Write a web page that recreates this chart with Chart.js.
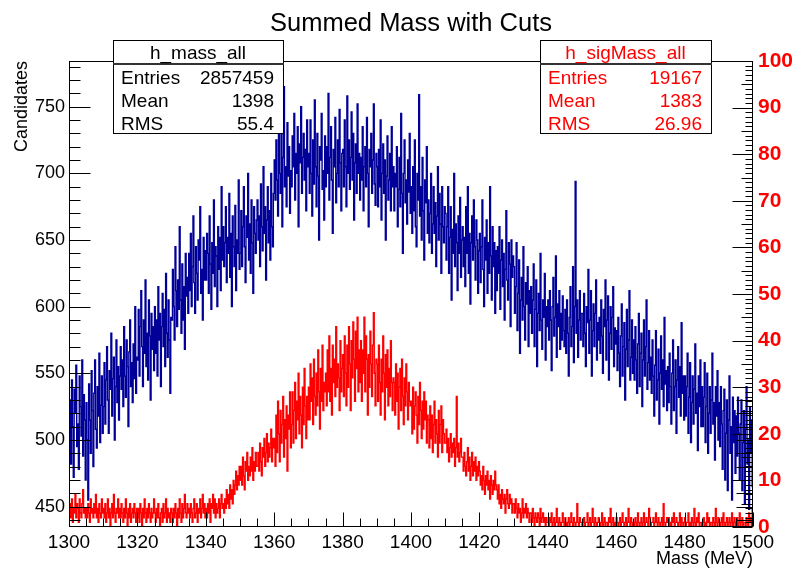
<!DOCTYPE html>
<html>
<head>
<meta charset="utf-8">
<script src="https://cdn.jsdelivr.net/npm/chart.js@4.4.0/dist/chart.umd.min.js"></script>
<style>
html,body{margin:0;padding:0;background:#fff;}
</style>
</head>
<body>
<canvas id="myCan" width="795" height="568"></canvas>
<script>
// histogram range, 0.25 MeV bins (20 bins = 5 MeV per row)
var massMin = 1300, massMax = 1500;

// h_mass_all (left axis)
var hMassAll = [
  498,530,482,545,510,472,538,520,556,495,512,478,548,525,503,560,488,534,515,470,
  528,500,455,542,515,490,552,522,480,535,560,508,494,540,518,565,498,526,548,505,
  525,558,512,545,570,530,505,552,538,580,518,546,562,500,540,575,528,555,515,548,
  570,538,560,525,585,548,532,575,555,510,566,590,540,558,528,572,546,600,535,562,
  560,598,548,585,612,570,540,590,565,620,555,580,545,605,578,530,595,568,585,552,
  600,565,590,548,615,575,595,540,585,610,570,598,555,625,580,562,605,575,535,592,
  590,628,600,575,645,612,585,620,598,660,605,580,632,590,615,568,640,608,622,595,
  640,612,655,600,630,668,618,595,645,625,605,650,635,675,610,628,590,652,620,642,
  620,655,640,610,668,632,598,648,625,680,615,645,638,600,660,628,652,612,690,635,
  660,630,648,675,618,652,640,685,622,655,600,668,645,630,676,612,650,640,695,628,
  640,672,630,660,690,645,618,668,652,700,635,662,625,680,648,610,675,655,640,665,
  680,650,668,630,692,660,642,705,655,675,620,665,690,648,672,635,700,660,645,685,
  710,680,725,695,668,742,700,685,730,660,712,765,690,705,675,738,698,720,670,702,
  690,728,705,745,680,715,700,735,660,722,708,750,685,712,730,695,718,672,740,705,
  715,685,740,700,668,725,692,755,705,675,730,698,650,720,710,745,688,702,665,728,
  690,720,700,760,680,712,735,695,655,718,705,742,678,700,725,690,748,708,672,715,
  718,690,740,705,675,758,700,725,688,712,746,695,730,665,708,722,685,752,700,715,
  680,712,695,735,672,705,720,690,742,700,660,718,705,730,685,710,752,692,676,715,
  705,675,718,690,740,665,700,722,685,710,650,698,728,680,695,715,672,735,690,705,
  672,700,690,720,660,688,712,675,745,685,640,700,725,678,695,662,710,686,730,670,
  690,655,705,672,725,660,645,700,680,759,668,690,650,712,672,635,695,678,720,655,
  680,648,670,700,640,662,690,655,678,630,668,705,650,685,662,625,690,660,648,675,
  670,635,660,690,625,652,675,605,658,640,700,630,662,648,612,668,640,682,622,650,
  660,630,652,615,675,640,690,625,655,602,648,668,635,680,645,620,665,650,610,642,
  655,618,645,680,628,600,652,635,665,610,648,625,690,638,605,660,630,648,595,642,
  612,645,625,660,598,635,650,615,640,590,628,672,620,605,648,632,585,650,622,638,
  630,595,615,648,582,610,635,565,605,622,590,645,600,575,618,602,630,570,612,595,
  615,580,605,632,570,598,620,555,595,610,582,640,590,568,605,592,625,560,600,585,
  605,575,612,590,552,600,622,578,592,638,562,602,585,612,568,595,575,608,582,570,
  598,565,605,580,548,592,615,570,585,630,558,600,694,580,605,562,590,612,575,595,
  595,570,610,580,555,600,588,628,565,590,612,548,582,602,570,595,620,560,588,575,
  592,565,605,578,550,598,585,620,560,590,608,545,580,600,568,592,615,555,584,572,
  582,552,592,565,540,578,602,548,570,588,530,568,598,555,575,612,545,562,590,550,
  575,545,585,560,535,572,595,540,565,580,525,560,590,548,570,605,538,558,582,545,
  562,535,575,548,518,556,582,530,545,568,512,550,578,538,560,525,592,542,552,522,
  555,528,565,540,512,550,575,522,540,560,505,545,570,532,555,518,588,535,548,515,
  548,518,540,565,505,532,558,498,528,548,512,538,572,520,535,492,548,525,560,510,
  540,510,532,558,498,525,550,490,520,540,505,530,565,512,528,485,540,518,552,500,
  528,495,540,512,478,522,538,470,505,530,462,515,548,490,510,455,532,498,522,475,
  518,488,532,505,470,512,530,462,498,522,452,508,540,482,500,448,525,490,515,465
];

// h_sigMass_all (right axis)
var hSigMassAll = [
  3,5,2,6,1,4,3,7,2,5,4,1,6,3,2,5,8,3,4,2,
  4,2,5,3,1,6,3,4,2,5,3,7,2,4,1,5,3,2,6,3,
  4,2,5,1,3,6,2,4,0,3,5,2,7,3,1,4,3,6,2,4,
  2,5,3,1,4,2,6,3,0,4,2,5,1,3,4,2,5,3,1,4,
  2,4,1,5,3,0,4,2,6,3,1,4,2,5,3,1,4,2,3,6,
  3,1,4,2,5,2,0,3,4,1,5,2,3,6,1,4,2,3,1,4,
  3,1,4,2,5,3,0,4,2,6,3,1,5,2,4,7,3,2,5,3,
  4,2,5,3,1,4,6,2,3,5,1,4,3,6,2,4,7,3,5,2,
  4,2,5,3,6,1,5,4,7,3,6,2,5,3,4,6,2,5,7,4,
  5,3,6,4,8,5,7,4,9,6,8,5,10,7,9,12,8,11,9,13,
  10,13,9,15,11,8,14,12,16,10,13,11,15,12,17,10,14,12,16,13,
  13,16,12,18,14,11,17,15,19,13,16,20,14,18,15,17,21,14,19,17,
  19,13,24,16,27,20,14,25,18,22,28,15,23,19,26,12,24,21,29,17,
  22,29,18,25,31,19,27,23,33,20,28,24,17,30,22,34,26,19,28,23,
  30,23,35,27,32,22,36,28,24,33,26,38,29,21,34,27,39,25,31,29,
  33,26,38,29,41,27,34,24,39,31,36,28,43,30,35,32,25,40,29,34,
  37,28,41,33,26,39,30,43,35,25,40,32,44,36,27,42,34,45,29,38,
  31,40,27,38,33,45,29,41,36,24,37,30,42,35,28,39,46,33,26,36,
  35,27,39,31,24,36,29,41,33,23,37,30,38,26,34,28,40,31,25,32,
  31,24,35,27,33,21,30,34,25,36,28,22,32,26,35,29,23,31,27,26,
  27,20,30,21,26,29,24,18,28,22,31,25,19,27,21,29,23,27,18,24,
  23,17,26,19,24,16,22,27,18,23,20,15,25,18,22,26,16,23,20,18,
  18,21,16,19,14,17,20,15,18,16,19,13,17,28,15,18,14,16,19,15,
  15,12,16,13,11,14,17,12,15,10,13,16,11,14,12,15,10,13,11,14,
  12,9,11,8,13,10,7,11,9,12,8,10,6,11,9,7,10,8,12,9,
  8,6,9,5,7,4,8,6,5,7,3,6,8,5,4,7,5,6,3,5,
  5,3,6,4,2,5,3,4,1,3,6,2,4,3,5,2,4,3,1,3,
  3,1,4,2,0,3,2,1,3,2,0,4,1,2,3,1,2,0,2,1,
  1,0,2,1,3,0,1,2,0,1,4,1,0,2,1,0,1,3,1,0,
  2,1,0,1,2,0,1,3,1,0,2,1,0,1,5,1,0,2,1,1,
  0,1,2,0,1,1,3,0,1,2,0,1,4,1,0,2,1,0,1,2,
  1,0,1,3,0,1,2,0,1,1,0,2,1,4,0,1,2,0,1,0,
  2,1,0,1,2,0,1,3,1,0,1,2,0,1,4,1,0,2,1,0,
  1,0,2,1,0,3,1,0,1,2,0,1,3,0,1,2,1,0,4,2,
  0,1,1,2,0,1,3,1,0,2,1,0,1,2,0,5,1,0,1,2,
  1,2,0,1,0,2,1,3,0,1,2,1,0,1,3,0,2,1,0,1,
  2,0,1,1,3,0,1,0,2,1,0,4,1,0,2,1,3,0,1,1,
  0,1,2,0,1,0,3,1,2,0,1,1,0,2,1,0,4,1,0,2,
  1,0,1,2,0,3,1,0,1,2,0,1,2,0,1,3,0,1,2,0,
  1,2,0,1,3,0,1,2,0,1,1,0,2,1,0,3,1,2,0,4
];

var xTickLabels = [1300,1320,1340,1360,1380,1400,1420,1440,1460,1480,1500];
var yTickLabels = [450,500,550,600,650,700,750];
var y2TickLabels = [0,10,20,30,40,50,60,70,80,90,100];

var chartTitle = 'Summed Mass with Cuts';
var massStats = ['h_mass_all', [['Entries','2857459'],['Mean','1398'],['RMS','55.4']]];
var sigStats = ['h_sigMass_all', [['Entries','19167'],['Mean','1383'],['RMS','26.96']]];

var fam = '"Liberation Sans", Arial, Helvetica, sans-serif';
Chart.defaults.font.family = fam;

function toPoints(vals) {
  var w = (massMax - massMin) / vals.length;
  return vals.map(function (v, i) { return {x: massMin + (i + 0.5) * w, y: v}; });
}

function setTicks(list) {
  return function (s) { s.ticks = list.map(function (v) { return {value: v}; }); };
}

function plainLabel(v) { return String(v); }

function statBox(ctx, x0, y0, x1, y1, color, st) {
  ctx.fillStyle = '#fff';
  ctx.fillRect(x0, y0, x1 - x0, y1 - y0);
  ctx.strokeStyle = '#000';
  ctx.lineWidth = 1;
  ctx.strokeRect(x0 + 0.5, y0 + 0.5, x1 - x0, y1 - y0);
  ctx.strokeStyle = '#333';
  ctx.lineWidth = 2;
  ctx.beginPath();
  ctx.moveTo(x0, 64); ctx.lineTo(x1 + 1, 64);
  ctx.stroke();
  ctx.fillStyle = color;
  ctx.font = '19px ' + fam;
  ctx.textBaseline = 'alphabetic';
  ctx.textAlign = 'center';
  ctx.fillText(st[0], (x0 + x1) / 2, 58.5);
  var ys = [83.5, 106.5, 130];
  st[1].forEach(function (r, i) {
    ctx.textAlign = 'left';
    ctx.fillText(r[0], x0 + 8, ys[i]);
    ctx.textAlign = 'right';
    ctx.fillText(r[1], x1 - 9, ys[i]);
  });
}

var rootDecor = {
  id: 'rootDecor',
  afterDatasetsDraw: function (chart) {
    var ctx = chart.ctx, a = chart.chartArea;
    var sx = chart.scales.x, sy = chart.scales.y, sy2 = chart.scales.y2;
    var L = Math.round(a.left) + 0.5, R = Math.round(a.right) - 0.5;
    var T = Math.round(a.top) + 0.5, B = Math.round(a.bottom) - 0.5;
    ctx.save();
    ctx.strokeStyle = '#000';
    ctx.lineWidth = 1;
    ctx.beginPath();
    // x ticks (inward)
    for (var v = 1300; v <= 1500; v += 5) {
      var px = Math.round(sx.getPixelForValue(v)) + 0.5;
      ctx.moveTo(px, B); ctx.lineTo(px, B - (v % 20 === 0 ? 14 : 8));
    }
    // left ticks
    for (v = 440; v <= 780; v += 10) {
      var py = Math.round(sy.getPixelForValue(v)) + 0.5;
      ctx.moveTo(L, py); ctx.lineTo(L + (v % 50 === 0 ? 21 : 11), py);
      if (v <= 540) { ctx.moveTo(R, py); ctx.lineTo(R - 16, py); }
    }
    // right ticks
    for (v = 0; v <= 100; v += 1) {
      py = Math.round(sy2.getPixelForValue(v)) + 0.5;
      var len = v % 10 === 0 ? 20 : (v % 5 === 0 ? 11 : 7);
      ctx.moveTo(R, py); ctx.lineTo(R - len, py);
    }
    ctx.stroke();
    ctx.strokeRect(L, T, R - L, B - T);
    ctx.restore();
  },
  afterDraw: function (chart) {
    var ctx = chart.ctx;
    ctx.save();
    ctx.fillStyle = '#000';
    ctx.font = '25.5px ' + fam;
    ctx.textAlign = 'center';
    ctx.textBaseline = 'alphabetic';
    ctx.fillText(chartTitle, 411, 31);
    statBox(ctx, 113, 40, 283, 133, '#000', massStats);
    statBox(ctx, 540, 40, 711, 133, '#ff0000', sigStats);
    ctx.restore();
  }
};

var ctxx = document.getElementById('myCan').getContext('2d');
var myChart = new Chart(ctxx, {
  type: 'line',
  data: {
    datasets: [
      {
        label: 'h_sigMass_all',
        data: toPoints(hSigMassAll),
        yAxisID: 'y2',
        borderColor: '#ff0000',
        borderWidth: 1.4,
        pointRadius: 0,
        stepped: 'middle',
        fill: false,
        order: 0
      },
      {
        label: 'h_mass_all',
        data: toPoints(hMassAll),
        yAxisID: 'y',
        borderColor: '#000099',
        borderWidth: 1.4,
        pointRadius: 0,
        stepped: 'middle',
        fill: false,
        order: 1
      }
    ]
  },
  options: {
    responsive: false,
    animation: false,
    devicePixelRatio: 1,
    layout: {padding: {top: 61, left: 0, right: 0, bottom: 0}},
    plugins: {legend: {display: false}, tooltip: {enabled: false}, title: {display: false}},
    scales: {
      x: {
        type: 'linear',
        min: massMin,
        max: massMax,
        afterBuildTicks: setTicks(xTickLabels),
        afterFit: function (s) { s.height = 41; },
        grid: {display: false, drawTicks: false},
        border: {display: false},
        ticks: {autoSkip: false, maxRotation: 0, padding: 4, color: '#000', font: {size: 19}, callback: plainLabel},
        title: {display: true, text: 'Mass (MeV)', align: 'end', color: '#000', padding: 0, font: {size: 18, lineHeight: 1}}
      },
      y: {
        position: 'left',
        min: 434.7,
        max: 784.3,
        afterBuildTicks: setTicks(yTickLabels),
        afterFit: function (s) { s.width = 69; },
        grid: {display: false, drawTicks: false},
        border: {display: false},
        ticks: {autoSkip: false, padding: 4, color: '#000', font: {size: 18}, callback: plainLabel},
        title: {display: true, text: 'Candidates', align: 'end', color: '#000', padding: {top: 13, bottom: 0}, font: {size: 18, lineHeight: 1}}
      },
      y2: {
        position: 'right',
        min: 0,
        max: 100,
        afterBuildTicks: setTicks(y2TickLabels),
        afterFit: function (s) { s.width = 42; },
        grid: {display: false, drawTicks: false},
        border: {display: false},
        ticks: {autoSkip: false, padding: 5, color: '#ff0000', font: {size: 21, weight: 'bold'}, callback: plainLabel}
      }
    }
  },
  plugins: [rootDecor]
});
</script>
</body>
</html>
